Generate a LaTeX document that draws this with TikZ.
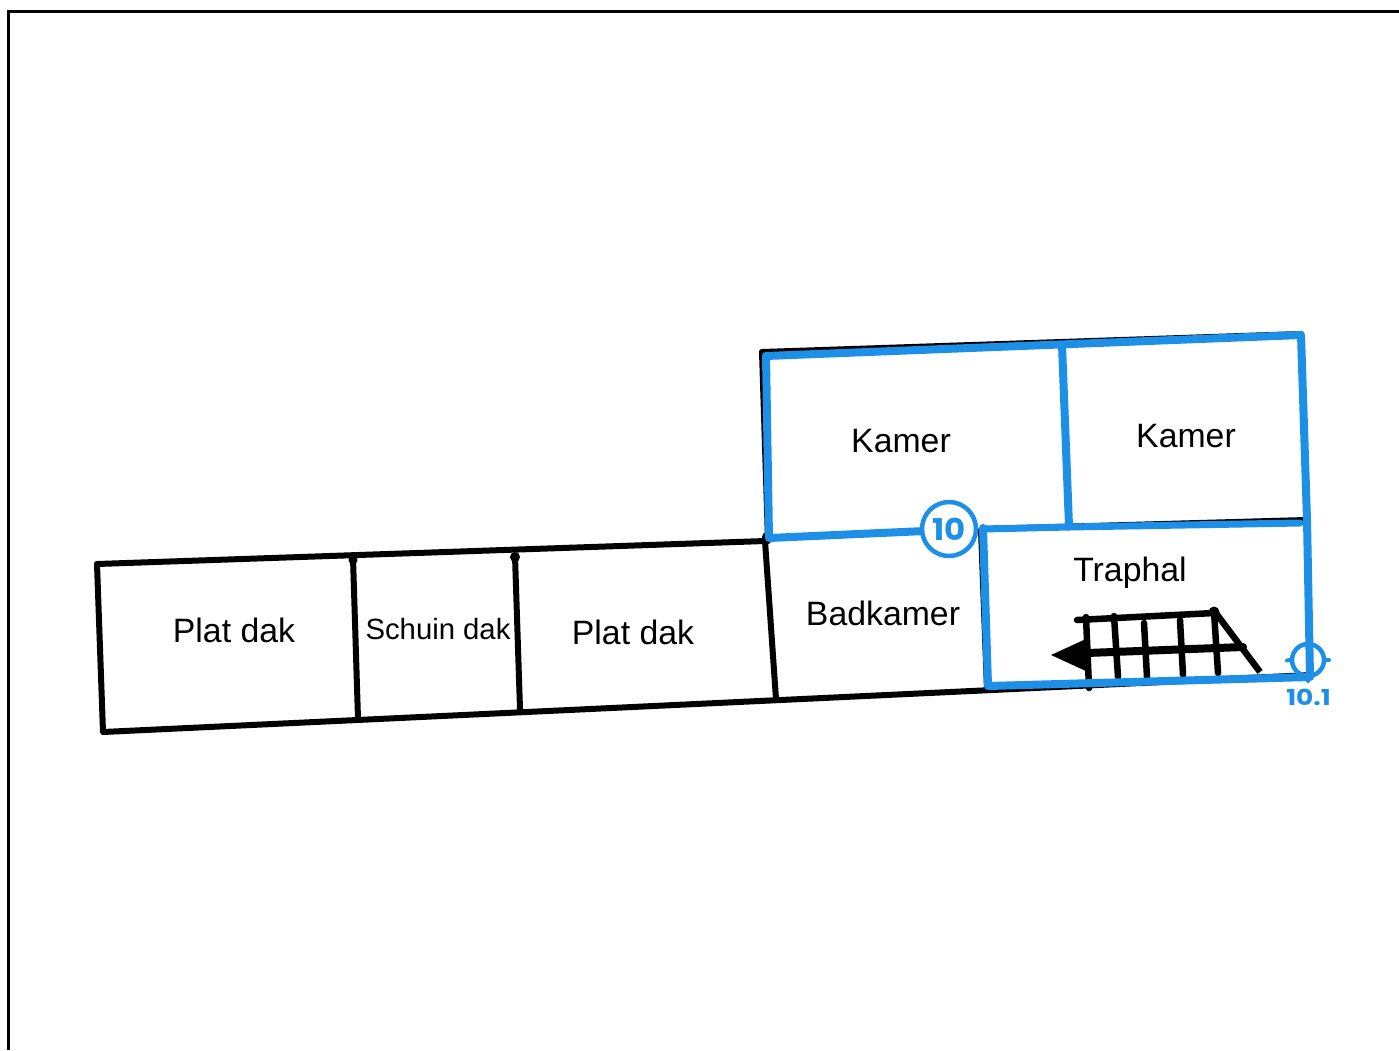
\documentclass[tikz,border=0pt]{standalone}
\usepackage{fontspec}
\setmainfont{Liberation Sans}
\newfontfamily\markfont{Poppins}
\definecolor{planblue}{HTML}{1E8FE6}
\tikzset{
  wall/.style={draw=black,line width=6pt,line cap=round,line join=round},
  framel/.style={draw=black,line width=3pt},
  stair/.style={draw=black,line width=6.5pt,line cap=round},
  bluewall/.style={draw=planblue,line width=8pt,line cap=round,line join=round},
  bluetick/.style={draw=planblue,line width=4pt,line cap=round},
  lab/.style={inner sep=0pt,text=black},
  labbig/.style={lab,font=\fontsize{33.8}{36}\selectfont},
  labsmall/.style={lab,font=\fontsize{29.3}{32}\selectfont},
  bluemark/.style={inner sep=0pt,text=planblue,font=\markfont\bfseries\fontsize{22}{24}\selectfont},
  walldot/.style={fill=black}
}
\begin{document}
\begin{tikzpicture}[x=1pt,y=-1pt]
\useasboundingbox (0,0) rectangle (1399,1050);
\fill[white] (0,0) rectangle (1399,1050);
\draw[framel] (8.5,1050) -- (8.5,11) -- (1399,11);
% black walls
\draw[wall] (97,564) -- (765,541) -- (776,699);
\draw[wall] (97,564) -- (103,732) -- (1310,675);
\draw[wall] (353,558) -- (358,719);
\draw[wall] (515,556) -- (520,709);
\fill[walldot] (353,560) circle (4.5pt);
\fill[walldot] (515,557) circle (5pt);
\draw[wall] (762,352) -- (1301,334);
\draw[wall] (762,352) -- (768,541);
\draw[wall] (981,530) -- (987,690);
\draw[wall] (983,529) -- (1306,520);
\fill[walldot] (767,537) circle (5pt);
\fill[walldot] (1306,520) circle (4pt);
% stairs
\draw[stair] (1077,620) -- (1214,613);
\draw[stair] (1086,617) -- (1089,688);
\draw[stair] (1114,616) -- (1118,677);
\draw[stair] (1144,623) -- (1147,677);
\draw[stair] (1180,620) -- (1183,675);
\draw[stair] (1214,612) -- (1218,673);
\fill[walldot] (1214,612) circle (5.5pt);
\draw[stair,line cap=butt] (1215,612) -- (1260,672);
\draw[stair,line width=8pt] (1087,653) -- (1243,647);
\fill[black] (1051,655) -- (1088,638) -- (1088,672) -- cycle;
% blue walls
\draw[bluewall] (766,356) -- (1301,335) -- (1307,520) -- (1310,677) -- (988,686) -- (983,528);
\draw[bluewall] (766,356) -- (769,538) -- (925,531);
\draw[bluewall,line width=7pt] (983,529) -- (1069,527);
\draw[bluewall,line width=7pt] (1069,527) -- (1300,523);
\draw[bluewall] (1062,345) -- (1069,526);
% labels
\node[labbig] (k1) at (901,441) {Kamer};
\node[labbig] (k2) at (1186,436) {Kamer};
\node[labbig] (tr) at (1130,573) {Traphal};
\node[labbig] (bk) at (883,613) {Badkamer};
\node[labbig] (pd1) at (234,630) {Plat dak};
\node[labsmall] (sd) at (438,629) {Schuin dak};
\node[labbig] (pd2) at (633,632) {Plat dak};
% marker 10
\node[circle,minimum size=54pt,inner sep=0pt,draw=planblue,line width=4.5pt,fill=white,text=planblue,font=\markfont\bfseries\fontsize{30}{32}\selectfont] (m10) at (949,529) {\scalebox{1.08}[1]{10}};
% marker 10.1
\node[circle,minimum size=32pt,inner sep=0pt,draw=planblue,line width=4.5pt] (m101) at (1308,660) {};
\draw[bluetick] (1287,660.5) -- (m101.west);
\draw[bluetick] (m101.east) -- (1329,660);
\draw[bluetick] (m101.south) -- (1308,681);
\node[bluemark] (t101) at (1308.5,697) {\scalebox{1.2}[1]{10.1}};
\end{tikzpicture}
\end{document}
